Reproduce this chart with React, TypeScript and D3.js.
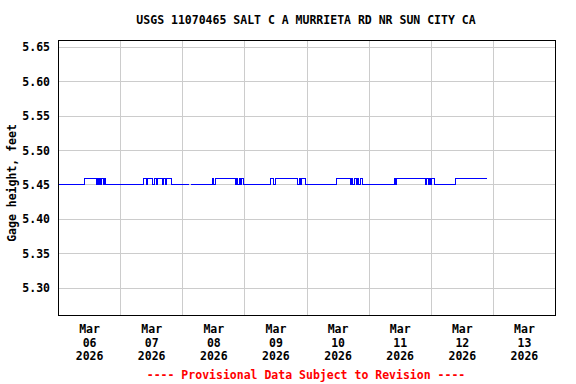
import React from 'react';
import * as d3 from 'd3';

// gage height series, run-length encoded: hour offset from Mar 06 00:00 where a level starts
// (null level = gap in record); last entry marks the end of data
const changeHours = [
  0, 10, 14.5, 15, 15.5, 16, 16.25, 16.75, 17.25, 17.75, 18.25, 19,
  33, 34, 34.5, 36.5, 37, 37.75, 38.25, 40, 40.5, 41.25, 41.75, 43.5, 50.25, 50.5, 51,
  59.5, 60, 60.75, 68.25, 68.75, 69.25, 69.75, 70.25, 70.75, 71.5,
  82, 83, 83.75, 92.5, 93, 93.5, 94, 95.25,
  107.5, 112.75, 113.25, 113.75, 114.5, 115, 115.5, 116, 116.5, 117.5,
  129.75, 130.25, 130.75, 141.75, 142.25, 142.75, 143.25, 143.75, 144.25, 145.25,
  153.25, 165.25,
];
const levels: (number | null)[] = [
  5.45, 5.46, 5.45, 5.46, 5.45, 5.46, 5.45, 5.46, 5.45, 5.46, 5.45, 5.45,
  5.46, 5.45, 5.46, 5.45, 5.46, 5.45, 5.46, 5.45, 5.46, 5.45, 5.46, 5.45, 5.45, null, 5.45,
  5.46, 5.45, 5.46, 5.45, 5.46, 5.45, 5.46, 5.45, 5.46, 5.45,
  5.46, 5.45, 5.46, 5.45, 5.46, 5.45, 5.46, 5.45,
  5.46, 5.45, 5.46, 5.45, 5.46, 5.45, 5.46, 5.45, 5.46, 5.45,
  5.46, 5.45, 5.46, 5.45, 5.46, 5.45, 5.46, 5.45, 5.46, 5.45,
  5.46, 5.46,
];

const yTicks = [5.30, 5.35, 5.40, 5.45, 5.50, 5.55, 5.60, 5.65];
const dayLabels = ['06', '07', '08', '09', '10', '11', '12', '13'];
const monthLabel = 'Mar';
const yearLabel = '2026';
const title = 'USGS 11070465 SALT C A MURRIETA RD NR SUN CITY CA';
const yTitle = 'Gage height, feet';
const footer = '---- Provisional Data Subject to Revision ----';

const W = 576, H = 384;
const font = '"DejaVu Sans Mono", "Liberation Mono", monospace';

const App: React.FC = () => {
  const start = new Date(2026, 2, 6);
  const end = new Date(2026, 2, 14);
  const toDate = (h: number) => new Date(start.getTime() + h * 3600e3);

  const x = d3.scaleTime().domain([start, end]).range([58.5, 555.5]);
  const y = d3.scaleLinear().domain([5.26, 5.66]).range([315.5, 40.5]);
  const px = (v: number) => Math.floor(v) + 0.5;

  const pts = changeHours.map((h, i) => ({ t: toDate(h), v: levels[i] }));
  const line = d3.line<{ t: Date; v: number | null }>()
    .defined(d => d.v !== null)
    .x(d => px(x(d.t)))
    .y(d => px(y(d.v as number)))
    .curve(d3.curveStepAfter);

  const days = d3.range(0, 9).map(i => toDate(i * 24));
  const mids = d3.range(0, 8).map(i => toDate(i * 24 + 12));

  return (
    <svg width={W} height={H} style={{ position: 'absolute', left: 0, top: 0 }}
      fontFamily={font} fontWeight="bold" fontSize={11.5}>
      <rect width={W} height={H} fill="#fff" />
      <text x={306} y={24} textAnchor="middle">{title}</text>
      {/* grid */}
      <g shapeRendering="crispEdges">
        {yTicks.map(t => (
          <line key={'gy' + t} x1={58.5} x2={555.5} y1={px(y(t))} y2={px(y(t))} stroke="#cccccc" />
        ))}
        {days.slice(1, -1).map((d, i) => (
          <line key={'gx' + i} x1={px(x(d))} x2={px(x(d))} y1={40.5} y2={315.5} stroke="#cccccc" />
        ))}
      </g>
      {/* series */}
      <path d={line(pts) || ''} fill="none" stroke="#0000ff" strokeWidth={1} shapeRendering="crispEdges" />
      <rect x={58.5} y={40.5} width={497} height={275} fill="none" stroke="#000" shapeRendering="crispEdges" />
      {/* y axis labels */}
      {yTicks.map(t => (
        <text key={'yl' + t} x={50} y={y(t) + 4} textAnchor="end">{t.toFixed(2)}</text>
      ))}
      <text transform={`translate(16,183) rotate(-90)`} textAnchor="middle">{yTitle}</text>
      {/* x axis labels */}
      {mids.map((d, i) => (
        <g key={'xl' + i} textAnchor="middle">
          <text x={x(d)} y={333}>{monthLabel}</text>
          <text x={x(d)} y={347}>{dayLabels[i]}</text>
          <text x={x(d)} y={360}>{yearLabel}</text>
        </g>
      ))}
      <text x={306} y={379} textAnchor="middle" fill="#ff0000">{footer}</text>
    </svg>
  );
};

export default App;
